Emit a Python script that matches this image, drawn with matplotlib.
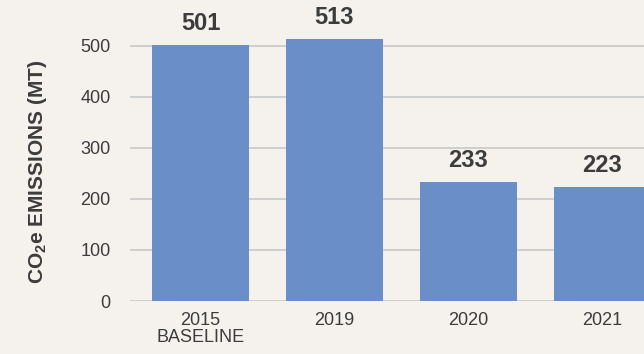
import matplotlib
matplotlib.use("Agg")
import matplotlib.pyplot as plt
import numpy as np

plt.rcParams['font.family'] = ['Liberation Sans', 'DejaVu Sans']
plt.rcParams['mathtext.fontset'] = 'custom'
plt.rcParams['mathtext.rm'] = 'Liberation Sans'
plt.rcParams['mathtext.bf'] = 'Liberation Sans:bold'

years = ['2015\nBASELINE', '2019', '2020', '2021']
emissions = [501, 513, 233, 223]
yticks = [0, 100, 200, 300, 400, 500]

bg = '#f5f2ee'
bar_color = '#6a8ec8'
text_color = '#3c3c3c'
grid_color = '#c8c8c8'

fig = plt.figure(figsize=(6.44, 3.54), dpi=100, facecolor=bg)
ax = fig.add_axes([130 / 644, 53 / 354, 1 - 130 / 644, 1 - 53 / 354])
ax.set_facecolor(bg)

x = np.arange(len(years))
bars = ax.bar(x, emissions, width=0.724, color=bar_color, zorder=2)

for b, v in zip(bars, emissions):
    ax.annotate(str(v), (b.get_x() + b.get_width() / 2, v),
                xytext=(0, 10), textcoords='offset pixels',
                ha='center', va='bottom', fontsize=17, fontweight='bold',
                color=text_color)

ax.set_xlim(-0.526, 3.31)
ax.set_ylim(0, 590)
ax.set_yticks(yticks)
ax.set_xticks(x)
ax.set_xticklabels(years, fontsize=13, color=text_color, linespacing=1.0)
ax.tick_params(axis='y', length=0, pad=14, labelsize=13, labelcolor=text_color)
ax.tick_params(axis='x', length=0, pad=8)

ax.grid(axis='y', color=grid_color, linewidth=1.2, zorder=0)
for s in ax.spines.values():
    s.set_visible(False)

fig.text(38 / 644, 1 - 172 / 354, r'CO$_\mathbf{2}$e EMISSIONS (MT)',
         rotation=90, ha='center', va='center', fontsize=15,
         fontweight='bold', color=text_color)

fig.savefig('out.png', dpi=100, facecolor=bg)
